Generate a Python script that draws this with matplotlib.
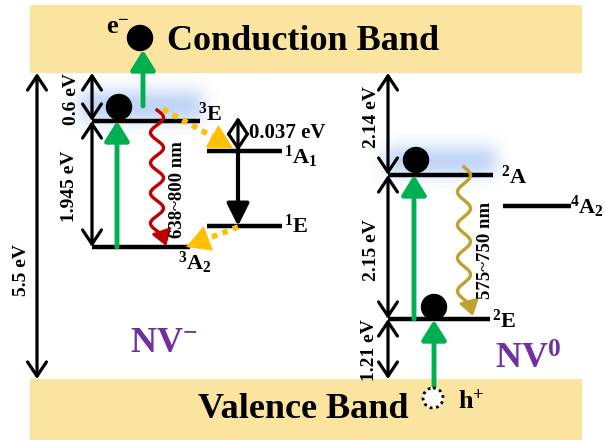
import numpy as np
import matplotlib
matplotlib.use('Agg')
import matplotlib.pyplot as plt
from matplotlib.patches import Rectangle, Circle

plt.rcParams['font.family'] = ['Liberation Serif', 'DejaVu Serif']
plt.rcParams['font.weight'] = 'bold'
plt.rcParams['mathtext.fontset'] = 'custom'
plt.rcParams['mathtext.rm'] = 'Liberation Serif:bold'
plt.rcParams['mathtext.bf'] = 'Liberation Serif:bold'
plt.rcParams['mathtext.it'] = 'Liberation Serif:bold'

# ---- diagram data (canvas units, y grows downward) ----
band_x = [30, 582]
cb_y = [5, 73]
vb_y = [379, 440]

# NV- levels
nvm_labels = [r'$^{3}\mathrm{E}$', r'$^{3}\mathrm{A}_{2}$', r'$^{1}\mathrm{A}_{1}$', r'$^{1}\mathrm{E}$']
nvm_x0 = [92, 92, 207, 207]
nvm_x1 = [200, 190, 282, 282]
nvm_y = [121, 247, 151, 226]
nvm_lab_xy = [(198, 114), (178, 263), (284, 157), (284, 226)]

# NV0 levels
nv0_labels = [r'$^{2}\mathrm{A}$', r'$^{2}\mathrm{E}$', r'$^{4}\mathrm{A}_{2}$']
nv0_x0 = [388, 388, 503]
nv0_x1 = [493, 490, 571]
nv0_y = [175, 319, 206]
nv0_lab_xy = [(501, 177), (492, 321), (570, 207)]

# energy gaps: label, arrow x, from y, to y, label x, label y, rotation
gap_text = ['5.5 eV', '0.6 eV', '1.945 eV', '0.037 eV', '2.14 eV', '2.15 eV', '1.21 eV']
gap_x = [37, 92, 92, 238, 388, 388, 388]
gap_y0 = [73, 73, 121, 117, 73, 175, 319]
gap_y1 = [379, 121, 247, 151, 175, 319, 379]
gap_lab_x = [21, 72, 69, 249, 371, 371, 369]
gap_lab_y = [270, 99, 186, 133, 117, 250, 350]
gap_rot = [90, 90, 90, 0, 90, 90, 90]

# electrons and hole
electron_xy = [(140, 38), (119, 107), (416, 160), (434, 307)]
hole_xy = (433, 398)

# excitation arrows (green): x, from y, to y
exc_x = [143, 117, 414, 434]
exc_y0 = [106, 247, 319, 386]
exc_y1 = [50, 121, 175, 320]

# emission waves: centre x, top, bottom, text, text x, colour
em_x = [157, 464]
em_y0 = [110, 167]
em_y1 = [246, 316]
em_text = ['638~800 nm', '575~750 nm']
em_lab_x = [178, 485]
em_lab_y = [190, 250]
em_color = ['#C00000', '#BFA22E']

# intersystem crossings (orange dotted): start, end
isc_start = [(163, 109), (238, 227)]
isc_end = [(233, 148), (186, 247)]

BAND = '#FBE3A0'
GREEN = '#00B050'
ORANGE = '#FFC000'
PURPLE = '#7030A0'

fig = plt.figure(figsize=(6.05, 4.4), dpi=100)
ax = fig.add_axes([0, 0, 1, 1])
ax.set_xlim(0, 605)
ax.set_ylim(440, 0)
ax.axis('off')

# bands
ax.add_patch(Rectangle((band_x[0], cb_y[0]), band_x[1] - band_x[0], cb_y[1] - cb_y[0],
                       color=BAND, lw=0, zorder=0))
ax.add_patch(Rectangle((band_x[0], vb_y[0]), band_x[1] - band_x[0], vb_y[1] - vb_y[0],
                       color=BAND, lw=0, zorder=0))
ax.text(303, 41, 'Conduction Band', fontsize=26, ha='center', va='center', zorder=5)
ax.text(303, 410, 'Valence Band', fontsize=26, ha='center', va='center', zorder=5)


def glow(x0, x1, y0, y1, blur=5.0):
    xs = np.linspace(x0 - 15, x1 + 15, 200)
    ys = np.linspace(y0 - 15, y1 + 15, 80)
    X, Y = np.meshgrid(xs, ys)
    s = lambda t: 1.0 / (1.0 + np.exp(-t / blur))
    a = s(X - x0) * s(x1 - X) * s(Y - y0) * s(y1 - Y)
    img = np.zeros(a.shape + (4,))
    img[..., 0] = 0.50
    img[..., 1] = 0.66
    img[..., 2] = 0.94
    img[..., 3] = 0.55 * a
    ax.imshow(img, extent=(xs[0], xs[-1], ys[-1], ys[0]), origin='upper',
              interpolation='bilinear', aspect='auto', zorder=2)


# levels
for x0, x1, y in zip(nvm_x0, nvm_x1, nvm_y):
    ax.plot([x0, x1], [y, y], color='black', lw=3.2, solid_capstyle='butt', zorder=3)
for x0, x1, y in zip(nv0_x0, nv0_x1, nv0_y):
    ax.plot([x0, x1], [y, y], color='black', lw=3.2, solid_capstyle='butt', zorder=3)

glow(80, 203, 92, 120)
glow(386, 496, 148, 174)

for lab, (x, y) in zip(nvm_labels, nvm_lab_xy):
    ax.text(x, y, lab, fontsize=16, ha='left', va='center', zorder=5)
for lab, (x, y) in zip(nv0_labels, nv0_lab_xy):
    ax.text(x, y, lab, fontsize=16, ha='left', va='center', zorder=5)

# 1A1 -> 1E
ax.annotate('', xy=(238, 226), xytext=(238, 151),
            arrowprops=dict(arrowstyle='-|>,head_length=0.9,head_width=0.45',
                            color='black', lw=3, shrinkA=0, shrinkB=0,
                            mutation_scale=15), zorder=4)

# energy gap arrows
for t, x, y0, y1, lx, ly, r in zip(gap_text, gap_x, gap_y0, gap_y1,
                                   gap_lab_x, gap_lab_y, gap_rot):
    ax.annotate('', xy=(x, y1), xytext=(x, y0),
                arrowprops=dict(arrowstyle='<->,head_length=0.6,head_width=0.4',
                                color='black', lw=2.3, shrinkA=0, shrinkB=0,
                                mutation_scale=17), zorder=4)
    ax.text(lx, ly, t, fontsize=15 if r == 0 else 14, rotation=r,
            ha='left' if r == 0 else 'center', va='center', zorder=5)

# excitation arrows
for x, y0, y1 in zip(exc_x, exc_y0, exc_y1):
    ax.annotate('', xy=(x, y1), xytext=(x, y0),
                arrowprops=dict(arrowstyle='-|>,head_length=0.8,head_width=0.5',
                                color=GREEN, lw=3.5, shrinkA=0, shrinkB=0,
                                mutation_scale=15), zorder=4)

# carriers
for (x, y) in electron_xy:
    ax.add_patch(Circle((x, y), 12.5, color='black', zorder=6))
ax.add_patch(Circle(hole_xy, 10, facecolor='white', edgecolor='black',
                    lw=2, ls=(0, (1, 1.3)), zorder=6))
ax.text(106, 27, r'e$^{-}$', fontsize=19, ha='left', va='center', zorder=5)
ax.text(458, 402, r'h$^{+}$', fontsize=19, ha='left', va='center', zorder=5)

# emission waves
for xc, y0, y1, t, lx, ly, c in zip(em_x, em_y0, em_y1, em_text, em_lab_x, em_lab_y, em_color):
    n_per = 4.5
    yy = np.linspace(y0, y1 - 6, 400)
    xx = xc + 6.5 * np.sin(2 * np.pi * n_per * (yy - y0) / (y1 - y0))
    ax.plot(xx, yy, color=c, lw=2.4, zorder=4)
    ax.annotate('', xy=(xx[-1] + 3, y1), xytext=(xx[-10], yy[-10]),
                arrowprops=dict(arrowstyle='-|>,head_length=0.6,head_width=0.4',
                                color=c, lw=2, shrinkA=0, shrinkB=0,
                                mutation_scale=15), zorder=4)
    ax.text(lx, ly, t, fontsize=13.5, rotation=90, ha='center', va='center', zorder=5)

# intersystem crossings
for (xs, ys), (xe, ye) in zip(isc_start, isc_end):
    d = np.hypot(xe - xs, ye - ys)
    ux, uy = (xe - xs) / d, (ye - ys) / d
    hx, hy = xe - ux * 14, ye - uy * 14
    ax.plot([xs, hx], [ys, hy], color=ORANGE, lw=4, ls=(0, (1, 1)),
            solid_capstyle='butt', dash_capstyle='butt', zorder=4)
    ax.annotate('', xy=(xe, ye), xytext=(hx - ux * 2, hy - uy * 2),
                arrowprops=dict(arrowstyle='-|>,head_length=1.1,head_width=0.6',
                                color=ORANGE, lw=0.5, shrinkA=0, shrinkB=0,
                                mutation_scale=15), zorder=4)

# charge-state labels
ax.text(130, 344, r'NV$^{-}$', fontsize=26, color=PURPLE, ha='left', va='center', zorder=5)
ax.text(495, 360, r'NV$^{0}$', fontsize=26, color=PURPLE, ha='left', va='center', zorder=5)

fig.savefig('out.png', dpi=100)
